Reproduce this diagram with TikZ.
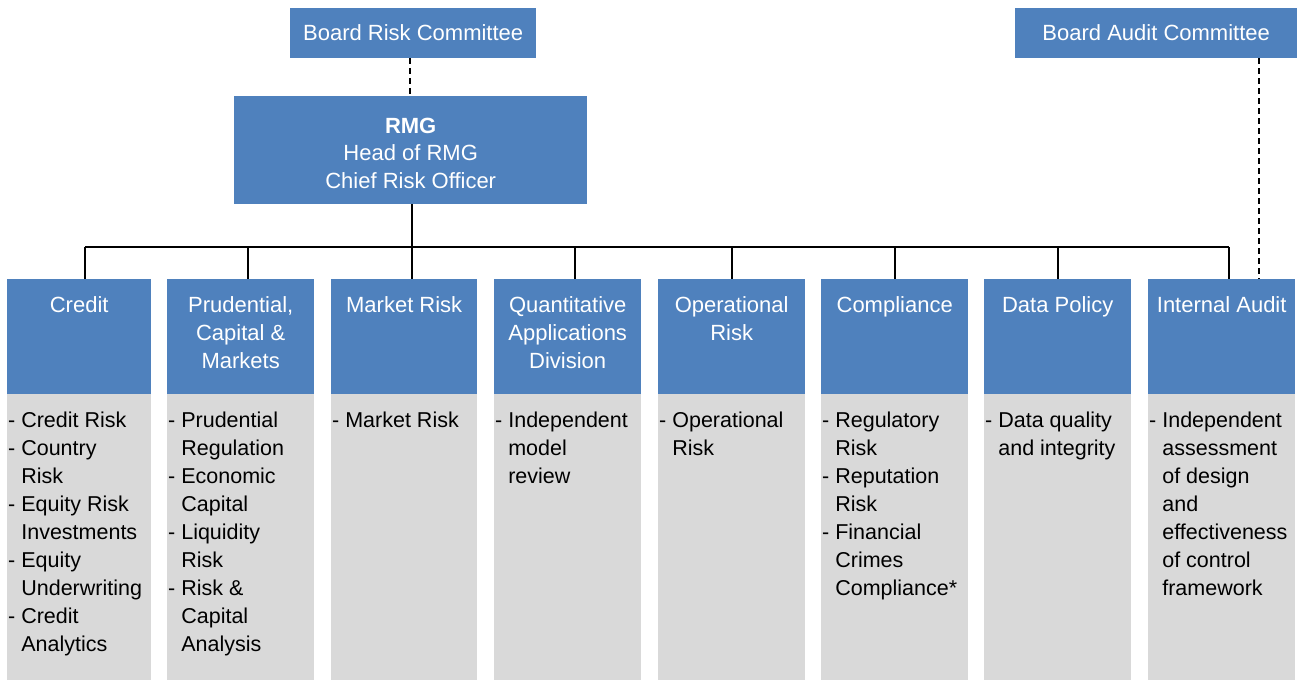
\documentclass[tikz,border=0pt]{standalone}
\usepackage{fontspec}
\setmainfont{Liberation Sans}
\newcommand{\hind}{\phantom{- }}
\newcommand{\fs}{\rule{0pt}{20pt}}
\definecolor{boxblue}{RGB}{79,129,189}
\definecolor{boxgray}{RGB}{217,217,217}
\tikzset{
  bluebox/.style={fill=boxblue,draw=none,inner sep=0pt,anchor=north west},
  graybox/.style={fill=boxgray,draw=none,inner sep=0pt,anchor=north west},
  whitetxt/.style={text=white,inner sep=0pt,font={\fontsize{22}{28}\selectfont}},
  headtxt/.style={whitetxt,anchor=north,align=center},
  bodytxt/.style={text=black,inner sep=0pt,anchor=north west,align=left,font={\fontsize{21.5}{28}\selectfont}},
  conn/.style={draw=black,line width=2.6pt},
  dconn/.style={draw=black,line width=2.6pt,dash pattern=on 6pt off 4pt}
}
\begin{document}
\begin{tikzpicture}[x=1pt,y=-1pt]
\useasboundingbox (0,0) rectangle (1304,680);
% top boxes
\node[bluebox,minimum width=246pt,minimum height=50pt] (brc) at (290,8) {};
\node[whitetxt,anchor=base] (brct) at (brc.center |- 0,40) {Board Risk Committee};
\node[bluebox,minimum width=282pt,minimum height=50pt] (bac) at (1015,8) {};
\node[whitetxt,anchor=base] (bact) at (bac.center |- 0,40) {Board Audit Committee};
\node[bluebox,minimum width=353pt,minimum height=108pt] (rmg) at (234,96) {};
\node[headtxt,font={\fontsize{22}{27.5}\selectfont}] (rmgt) at (rmg.center |- 0,113) {\fs\bfseries RMG\\Head of RMG\\Chief Risk Officer};
% columns
\foreach \i/\x/\w in {1/7/144,2/167/147,3/331/146,4/494/147,5/658/147,6/821/147,7/984/147,8/1148/147}{
  \node[bluebox,minimum width=\w pt,minimum height=115pt] (h\i) at (\x,279) {};
  \node[graybox,minimum width=\w pt,minimum height=286pt] (g\i) at (\x,394) {};
}
\node[headtxt] (ht1) at (h1.center |- 0,292) {\fs Credit};
\node[headtxt] (ht2) at (h2.center |- 0,292) {\fs Prudential,\\Capital \&\\Markets};
\node[headtxt] (ht3) at (h3.center |- 0,292) {\fs Market Risk};
\node[headtxt] (ht4) at (h4.center |- 0,292) {\fs Quantitative\\Applications\\Division};
\node[headtxt] (ht5) at (h5.center |- 0,292) {\fs Operational\\Risk};
\node[headtxt] (ht6) at (h6.center |- 0,292) {\fs Compliance};
\node[headtxt] (ht7) at (h7.center |- 0,292) {\fs Data Policy};
\node[headtxt] (ht8) at (h8.center |- 0,292) {\fs Internal Audit};
% body texts
\node[bodytxt] (bt1) at ([xshift=1pt,yshift=-13pt]g1.north west) {\fs- Credit Risk\\- Country\\\hind Risk\\- Equity Risk\\\hind Investments\\- Equity\\\hind Underwriting\\- Credit\\\hind Analytics};
\node[bodytxt] (bt2) at ([xshift=1pt,yshift=-13pt]g2.north west) {\fs- Prudential\\\hind Regulation\\- Economic\\\hind Capital\\- Liquidity\\\hind Risk\\- Risk \&\\\hind Capital\\\hind Analysis};
\node[bodytxt] (bt3) at ([xshift=1pt,yshift=-13pt]g3.north west) {\fs- Market Risk};
\node[bodytxt] (bt4) at ([xshift=1pt,yshift=-13pt]g4.north west) {\fs- Independent\\\hind model\\\hind review};
\node[bodytxt] (bt5) at ([xshift=1pt,yshift=-13pt]g5.north west) {\fs- Operational\\\hind Risk};
\node[bodytxt] (bt6) at ([xshift=1pt,yshift=-13pt]g6.north west) {\fs- Regulatory\\\hind Risk\\- Reputation\\\hind Risk\\- Financial\\\hind Crimes\\\hind Compliance*};
\node[bodytxt] (bt7) at ([xshift=1pt,yshift=-13pt]g7.north west) {\fs- Data quality\\\hind and integrity};
\node[bodytxt] (bt8) at ([xshift=1pt,yshift=-13pt]g8.north west) {\fs- Independent\\\hind assessment\\\hind of design\\\hind and\\\hind effectiveness\\\hind of control\\\hind framework};
% connectors
\coordinate (bus) at (0,247);
\coordinate (t1) at (85,279);
\coordinate (t2) at (248,279);
\coordinate (t3) at (412,279);
\coordinate (t4) at (575,279);
\coordinate (t5) at (732,279);
\coordinate (t6) at (895,279);
\coordinate (t7) at (1058,279);
\coordinate (t8) at (1229,279);
\coordinate (aud) at (1259,58);
\draw[conn] (t1 |- bus) -- (t8 |- bus);
\draw[conn] (rmg.south -| t3) -- (t3 |- bus);
\foreach \i in {1,...,8}{
  \draw[conn] (t\i |- bus) -- (t\i);
}
\draw[dconn] (brc.south -| 410,0) -- (rmg.north -| 410,0);
\draw[dconn] (aud) -- (aud |- h8.north);
\end{tikzpicture}
\end{document}
